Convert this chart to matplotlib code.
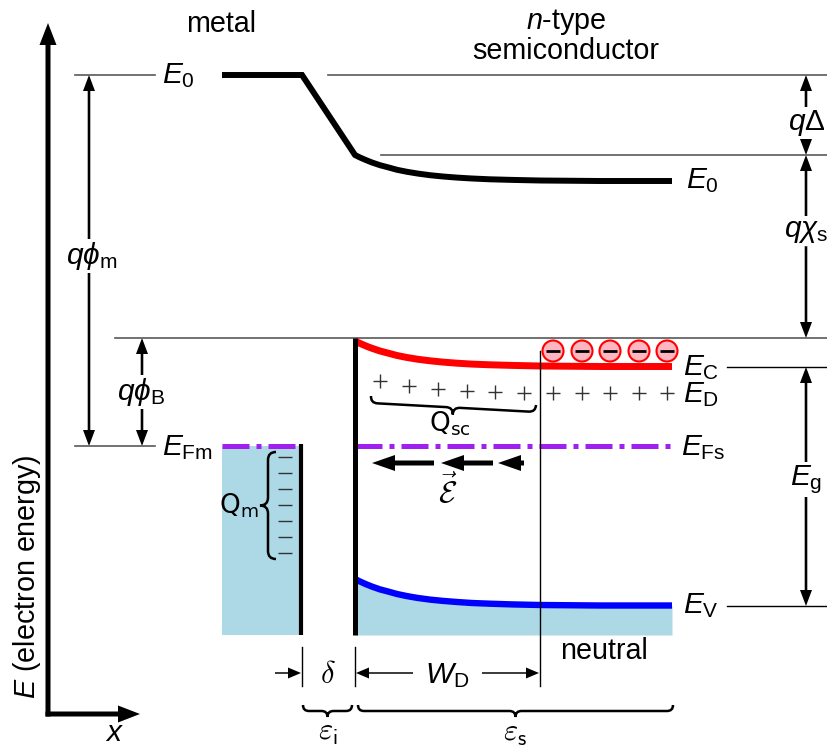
import matplotlib.pyplot as plt
import numpy as np
from matplotlib.path import Path
from matplotlib.patches import PathPatch, Circle

plt.rcParams['font.family'] = ['Liberation Sans', 'DejaVu Sans']
plt.rcParams['mathtext.fontset'] = 'custom'
plt.rcParams['mathtext.rm'] = 'Liberation Sans'
plt.rcParams['mathtext.it'] = 'Liberation Sans:italic'
plt.rcParams['mathtext.bf'] = 'Liberation Sans:bold'

# energy levels in drawing units (y grows downward)
vacuum_level = 75
bulk_vacuum = 155
barrier_top = 338
cond_edge = 367
fermi_level = 446
val_edge = 606
band_bottom = 635

# lateral positions
x_metal = [222, 300]
x_metal_surface = 301
x_interface = 355
x_depletion = 540
x_end = 672
x_bar = 806

# bent bands in the semiconductor
x_band = [355, 360, 366, 372, 380, 388, 397, 407, 418, 430, 443, 457, 472, 490, 512, 540, 600, 672]
vac_band = [155, 157.5, 160.1, 162.5, 165.2, 167.3, 169.8, 171.8, 173.6, 175.2, 176.5, 177.6,
            178.5, 179.3, 179.9, 180.5, 181, 181]
cond_band = [341, 343.4, 346, 348.3, 351, 353.1, 355.5, 357.5, 359.3, 360.8, 362.1, 363.2,
             364.1, 364.8, 365.4, 366, 366.5, 366.5]
val_band = [579, 581.5, 584.2, 586.6, 589.4, 591.5, 594, 596.1, 598, 599.6, 600.9, 602,
            603, 603.7, 604.4, 605, 605.5, 605.5]

# vacuum level through the metal and the gap
x_vac_metal = [222, 302, 355]
vac_metal = [75, 75, 155]

# charges
electron_x = [553, 582, 610, 639, 667]
electron_y = 351
donor_x = [380, 409, 438, 467, 495, 524, 553, 582, 610, 639, 667]
donor_y = [381, 386, 389, 391, 392, 393, 393, 393, 393, 393, 393]
metal_charge_x = 285
metal_charge_y = [457, 473, 489, 505, 521, 537, 553]

# field arrows (tail, tip)
field_tail = [434, 493, 524]
field_tip = [372, 441, 498]
field_y = 463

fig = plt.figure(figsize=(8.27, 7.47), dpi=100)
ax = fig.add_axes([0, 0, 1, 1])
ax.set_xlim(0, 827)
ax.set_ylim(747, 0)
ax.axis('off')

fs = 20.7
fe = 21.5
purple = '#a020f0'
lightblue = '#add8e6'


def arrow(x0, y0, x1, y1, w=3, hw=13, hl=16):
    ax.arrow(x0, y0, x1 - x0, y1 - y0, width=w, head_width=hw, head_length=hl,
             length_includes_head=True, color='k', lw=0)


def brace(start, end, depth, lw=1.8):
    # tip sits on the right-hand side going from start to end (screen y is flipped)
    p0 = np.array(start, float)
    p1 = np.array(end, float)
    L = np.hypot(*(p1 - p0))
    u = (p1 - p0) / L
    n = np.array([-u[1], u[0]])
    h = depth
    r = h / 2
    local = [(0, 0), (0, h / 2), (r, h / 2), (L / 2 - r, h / 2),
             (L / 2, h / 2), (L / 2, h), (L / 2, h / 2), (L / 2 + r, h / 2),
             (L - r, h / 2), (L, h / 2), (L, 0)]
    codes = [Path.MOVETO, Path.CURVE3, Path.CURVE3, Path.LINETO,
             Path.CURVE3, Path.CURVE3, Path.CURVE3, Path.CURVE3,
             Path.LINETO, Path.CURVE3, Path.CURVE3]
    pts = [p0 + s * u + t * n for s, t in local]
    ax.add_patch(PathPatch(Path(pts, codes), fc='none', ec='k', lw=lw))


# axes of the diagram
arrow(48, 716.5, 48, 23, w=5, hw=17, hl=22)
arrow(45.5, 714, 140, 714, w=5, hw=17, hl=22)
ax.text(27, 577, r'$E$ (electron energy)', rotation=90, ha='center', va='center', fontsize=fs)
ax.text(115, 741, r'$x$', ha='center', va='baseline', fontsize=fe)

# filled states
ax.fill_between(x_metal, fermi_level, band_bottom, color=lightblue, lw=0)
ax.fill_between(x_band, val_band, band_bottom, color=lightblue, lw=0)

# reference lines
thin = dict(color='0.35', lw=1.2)
ax.plot([75, 155], [vacuum_level] * 2, **thin)
ax.plot([328, 827], [vacuum_level] * 2, **thin)
ax.plot([381, 827], [bulk_vacuum] * 2, **thin)
ax.plot([115, 827], [barrier_top] * 2, **thin)
ax.plot([75, 155], [fermi_level] * 2, **thin)
ax.plot([727, 827], [cond_edge] * 2, color='k', lw=1)
ax.plot([727, 827], [val_edge] * 2, color='k', lw=1)

# bands
ax.plot(x_vac_metal + x_band[1:], vac_metal + vac_band[1:], color='k', lw=4.3,
        solid_joinstyle='miter', solid_capstyle='butt')
ax.plot(x_band, cond_band, color='red', lw=5, solid_capstyle='butt')
ax.plot(x_band, val_band, color='blue', lw=4.6, solid_capstyle='butt')
dashdot = (0, (5.4, 1.4, 1.0, 1.4))
ax.plot(x_metal, [fermi_level] * 2, color=purple, lw=3.6, ls=dashdot)
ax.plot([x_interface, x_end], [fermi_level] * 2, color=purple, lw=3.6, ls=dashdot)

# metal surface and interface
ax.plot([x_metal_surface] * 2, [444, band_bottom], color='k', lw=3, solid_capstyle='butt')
ax.plot([x_interface] * 2, [barrier_top, band_bottom], color='k', lw=3.6, solid_capstyle='butt')
ax.plot([x_depletion] * 2, [351, 686], color='k', lw=1)
ax.plot([302, 302], [647, 686], color='k', lw=1)
ax.plot([x_interface] * 2, [647, 686], color='k', lw=1)

# charges
for xe in electron_x:
    ax.add_patch(Circle((xe, electron_y), 10.5, fc='#ffb6c1', ec='red', lw=1.5, zorder=4))
ax.plot(electron_x, [electron_y] * len(electron_x), ls='none', marker='_', ms=9.5,
        mew=2, color='k', zorder=5)
ax.plot(donor_x, donor_y, ls='none', marker='+', ms=10, mew=1, color='0.2')
ax.plot([metal_charge_x] * len(metal_charge_y), metal_charge_y, ls='none', marker='_',
        ms=10, mew=1, color='0.2')

# field arrows
for t0, t1 in zip(field_tail, field_tip):
    arrow(t0, field_y, t1, field_y, w=5, hw=16, hl=23)
ax.text(448, 503, r'$\vec{\mathcal{E}}$', math_fontfamily='cm', ha='center', va='baseline',
        fontsize=22)

# braces
brace((276, 452), (276, 559), 16)
brace((371, 396), (536, 405), 14)
brace((303, 705), (352, 705), 12)
brace((358, 705), (673, 705), 12)

# energy differences
box = dict(fc='white', ec='none', pad=1)
for xa, ya, yb in [(89, vacuum_level, fermi_level), (142, barrier_top, fermi_level),
                   (x_bar, vacuum_level, bulk_vacuum), (x_bar, bulk_vacuum, barrier_top),
                   (x_bar, cond_edge, val_edge)]:
    mid = (ya + yb) / 2
    arrow(xa, mid, xa, ya, w=2.6, hw=12, hl=16)
    arrow(xa, mid, xa, yb, w=2.6, hw=12, hl=16)

ax.text(92, 264, r'$q\phi_\mathrm{m}$', ha='center', va='baseline', fontsize=fe, bbox=box)
ax.text(141, 400, r'$q\phi_\mathrm{B}$', ha='center', va='baseline', fontsize=fe, bbox=box)
ax.text(807, 130, r'$q\Delta$', ha='center', va='baseline', fontsize=fe, bbox=box)
ax.text(806, 237, r'$q\chi_\mathrm{s}$', ha='center', va='baseline', fontsize=fe, bbox=box)
ax.text(806, 485, r'$E_\mathrm{g}$', ha='center', va='baseline', fontsize=fe, bbox=box)

# widths
arrow(275, 673, 301, 673, w=1.5, hw=11, hl=13)
arrow(413, 673, 356, 673, w=1.5, hw=11, hl=13)
arrow(482, 673, 539, 673, w=1.5, hw=11, hl=13)
ax.text(328, 683, r'$\delta$', math_fontfamily='cm', ha='center', va='baseline', fontsize=22)
ax.text(447, 683, r'$W_\mathrm{D}$', ha='center', va='baseline', fontsize=fe)
ax.text(328, 740, r'$\varepsilon_\mathsf{i}$', math_fontfamily='cm', ha='center',
        va='baseline', fontsize=22)
ax.text(515, 741, r'$\varepsilon_\mathsf{s}$', math_fontfamily='cm', ha='center',
        va='baseline', fontsize=22)

# level names
ax.text(162, 83, r'$E_0$', ha='left', va='baseline', fontsize=fe)
ax.text(686, 188, r'$E_0$', ha='left', va='baseline', fontsize=fe)
ax.text(162, 455, r'$E_\mathrm{Fm}$', ha='left', va='baseline', fontsize=fe)
ax.text(683, 375, r'$E_\mathrm{C}$', ha='left', va='baseline', fontsize=fe)
ax.text(683, 402, r'$E_\mathrm{D}$', ha='left', va='baseline', fontsize=fe)
ax.text(681, 455, r'$E_\mathrm{Fs}$', ha='left', va='baseline', fontsize=fe)
ax.text(683, 613, r'$E_\mathrm{V}$', ha='left', va='baseline', fontsize=fe)

ax.text(239, 513, r'$\mathrm{Q}_\mathrm{m}$', math_fontfamily='dejavusans', ha='center',
        va='baseline', fontsize=19)
ax.text(450, 432, r'$\mathrm{Q}_\mathrm{sc}$', math_fontfamily='dejavusans', ha='center',
        va='baseline', fontsize=19)

# region names
ax.text(221, 32, 'metal', ha='center', va='baseline', fontsize=fs)
ax.text(566, 29, r'$n$-type', ha='center', va='baseline', fontsize=fs)
ax.text(566, 59, 'semiconductor', ha='center', va='baseline', fontsize=fs)
ax.text(604, 659, 'neutral', ha='center', va='baseline', fontsize=fs)

fig.savefig('out.png', dpi=100)
